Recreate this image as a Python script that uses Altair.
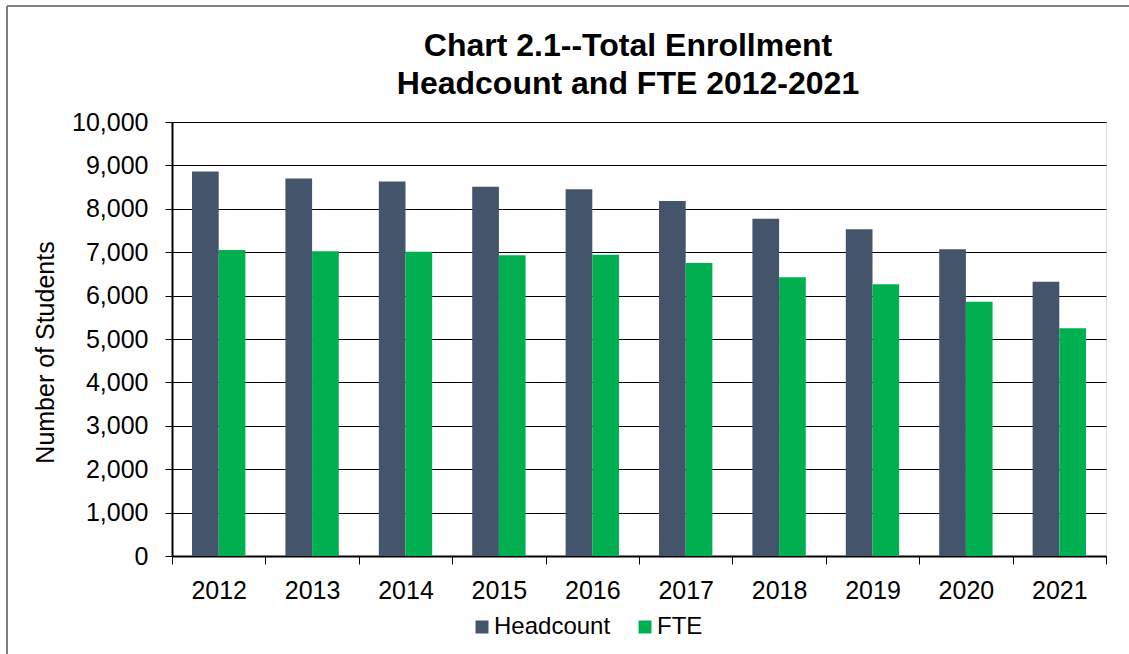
import altair as alt
import pandas as pd

years = ["2012", "2013", "2014", "2015", "2016", "2017", "2018", "2019", "2020", "2021"]
headcount = [8860, 8700, 8630, 8510, 8450, 8180, 7770, 7530, 7070, 6320]
fte = [7050, 7020, 7010, 6930, 6940, 6750, 6420, 6260, 5860, 5250]
series = ["Headcount", "FTE"]
colors = ["#44546A", "#00B050"]
y_ticks = [0, 1000, 2000, 3000, 4000, 5000, 6000, 7000, 8000, 9000, 10000]

rows = []
for i, y in enumerate(years):
    rows.append({"Year": y, "Series": "Headcount", "Value": headcount[i]})
    rows.append({"Year": y, "Series": "FTE", "Value": fte[i]})
df = pd.DataFrame(rows)

FONT = "Liberation Sans"

bars = alt.Chart(df).mark_bar().encode(
    x=alt.X("Year:N", sort=years,
            scale=alt.Scale(paddingInner=0, paddingOuter=0),
            axis=alt.Axis(title=None, labelAngle=0, labelFontSize=25, labelFont=FONT,
                          labelColor="#000000", tickBand="extent", tickSize=8,
                          tickColor="#000000", domainColor="#000000", domainWidth=2,
                          labelPadding=14)),
    xOffset=alt.XOffset("Series:N", sort=series,
                        scale=alt.Scale(paddingInner=0, paddingOuter=0.75)),
    y=alt.Y("Value:Q",
            scale=alt.Scale(domain=[0, 10000], nice=False),
            axis=alt.Axis(title="Number of Students", values=y_ticks, format=",.0f",
                          labelFontSize=25, labelFont=FONT, labelColor="#000000",
                          titleFontSize=25, titleFont=FONT, titleFontWeight="normal",
                          titleColor="#000000", tickSize=7, tickColor="#000000",
                          domainColor="#000000", domainWidth=2, labelPadding=17,
                          gridColor="#000000", gridWidth=1, gridOpacity=1,
                          titleX=-127, titleY=230, titleAlign="center",
                          titleBaseline="middle", titleAngle=-90)),
    color=alt.Color("Series:N", sort=series,
                    scale=alt.Scale(domain=series, range=colors),
                    legend=alt.Legend(title=None, orient="none", direction="horizontal",
                                      legendX=298, legendY=493, symbolType="square",
                                      symbolSize=169, symbolStrokeWidth=0,
                                      labelFontSize=24, labelFont=FONT,
                                      labelColor="#000000", labelOffset=0,
                                      columnPadding=22)),
)

top_line = alt.Chart(df).mark_rule(color="#7f7f7f", strokeWidth=1.5).encode(
    x=alt.value(-165), x2=alt.value(957), y=alt.value(-116)
)
left_line = alt.Chart(df).mark_rule(color="#7f7f7f", strokeWidth=1.5).encode(
    x=alt.value(-165), y=alt.value(-116), y2=alt.value(532)
)

chart = alt.layer(bars, top_line, left_line).properties(
    width=934,
    height=434,
    padding={"left": 172, "top": 122, "right": 23, "bottom": 98},
    autosize=alt.AutoSizeParams(type="none"),
    title=alt.TitleParams(
        text=["Chart 2.1--Total Enrollment", "Headcount and FTE 2012-2021"],
        fontSize=32, font=FONT, fontWeight="bold", color="#000000",
        anchor="middle", dx=-11, dy=116, lineHeight=38, offset=20,
    ),
).configure_view(
    stroke="#000000", strokeWidth=2
).configure(background="#ffffff")

chart.save("out.html", embed_options={"renderer": "svg", "actions": False})
